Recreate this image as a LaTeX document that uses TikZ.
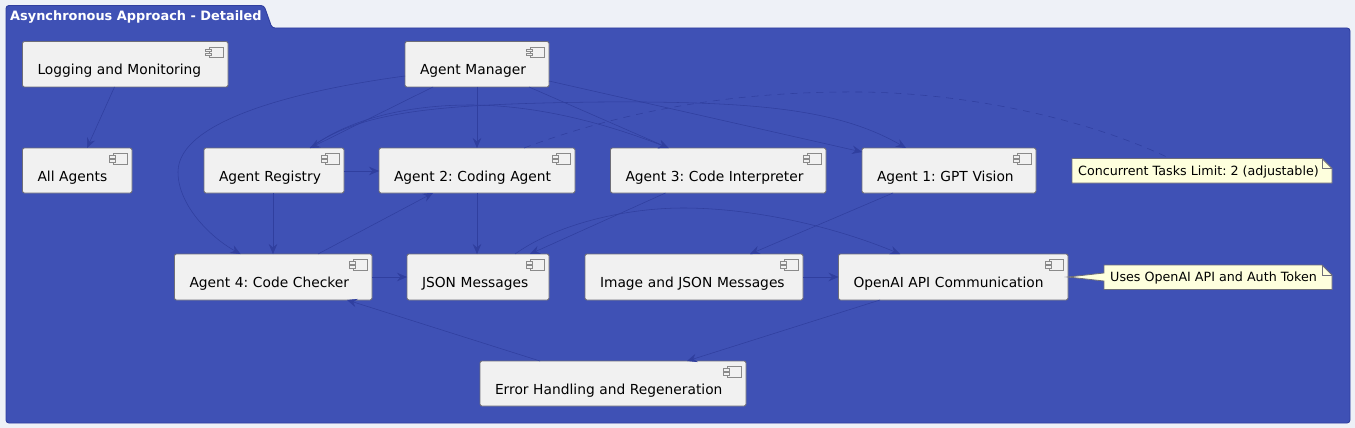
\documentclass[tikz,border=0pt]{standalone}
\usepackage{fontspec}
\setmainfont{DejaVu Sans}
\usetikzlibrary{arrows.meta,calc}
\definecolor{pagebg}{HTML}{EEF1F7}
\definecolor{pkgfill}{HTML}{3F51B5}
\definecolor{pkgline}{HTML}{303F9F}
\definecolor{boxfill}{HTML}{F1F1F1}
\definecolor{boxline}{HTML}{6E6E78}
\definecolor{notefill}{HTML}{FEFFDD}
\definecolor{iconline}{HTML}{8A8A8A}
\tikzset{
  x=1pt,y=-1pt,
  compbox/.style={draw=boxline,fill=boxfill,line width=0.9pt,rounded corners=2pt,outer sep=0pt,inner xsep=15pt,inner ysep=0pt,align=left,text=black,font=\fontsize{13.8}{16}\selectfont},
  icon/.style={draw=iconline,fill=boxfill,line width=0.7pt},
  link/.style={draw=pkgline,line width=0.55pt,-{Stealth[length=10pt,width=8.5pt,inset=3.5pt]}},
  notelink/.style={draw=pkgline,line width=0.55pt,dash pattern=on 7pt off 6pt},
  notebox/.style={draw=boxline,fill=notefill,line width=0.8pt},
  notetext/.style={inner sep=0pt,text=black,anchor=west,font=\fontsize{12.7}{15}\selectfont},
}
% name, left, top, right, bottom, text
\newcommand{\compnode}[6]{%
  \pgfmathsetmacro{\bw}{#4-#2}\pgfmathsetmacro{\bh}{#5-#3}%
  \pgfmathsetmacro{\tw}{#4-#2-30}%
  \node[compbox,minimum width=\bw pt,minimum height=\bh pt,text width=\tw pt] (#1) at ({(#2+#4)/2},{(#3+#5)/2}) {\raisebox{0pt}[24pt][3pt]{#6}};
  \draw[icon] ([xshift=-18.5pt,yshift=-5.5pt]#1.north east) rectangle ([xshift=-4.5pt,yshift=-16pt]#1.north east);
  \draw[icon] ([xshift=-22.3pt,yshift=-7.5pt]#1.north east) rectangle ([xshift=-17pt,yshift=-10pt]#1.north east);
  \draw[icon] ([xshift=-22.3pt,yshift=-11.5pt]#1.north east) rectangle ([xshift=-17pt,yshift=-14pt]#1.north east);
}
\begin{document}
\frenchspacing
\begin{tikzpicture}
\useasboundingbox (0,0) rectangle (1355,428);
\fill[pagebg] (0,0) rectangle (1355,428);
% package
\path[draw=pkgline,fill=pkgfill,line width=0.9pt,rounded corners=3pt] (6,28) -- (6,5.5) -- (264,5.5) -- (272,28) -- (1350,28) -- (1350,423) -- (6,423) -- cycle;
\node[inner sep=0pt,anchor=west,text=white,font=\bfseries\fontsize{12.9}{15}\selectfont] (title) at (10,17) {Asynchronous Approach - Detailed};
% components
\compnode{log}{22.5}{41.5}{228}{87}{Logging and Monitoring}
\compnode{all}{22.5}{148}{132}{193}{All Agents}
\compnode{mgr}{405}{41.5}{549}{87}{Agent Manager}
\compnode{reg}{204}{148}{344}{193}{Agent Registry}
\compnode{agb}{379}{148}{575}{193}{Agent 2: Coding Agent}
\compnode{agc}{610.5}{148}{826}{193}{Agent 3: Code Interpreter}
\compnode{aga}{862}{148}{1036}{193}{Agent 1: GPT Vision}
\compnode{agd}{174.5}{254}{372}{300}{Agent 4: Code Checker}
\compnode{json}{407}{254}{549}{300}{JSON Messages}
\compnode{img}{585}{254}{803}{300}{Image and JSON Messages}
\compnode{api}{838.5}{254}{1068}{300}{OpenAI API Communication}
\compnode{err}{480}{361}{746}{406}{Error Handling and Regeneration}
% notes
\coordinate (nca) at (1072,158.5);
\coordinate (ncb) at (1332,183);
\path[notebox] (nca) -- (1322,158.5) -- (1332,168.5) -- (ncb) -- (1072,183) -- cycle;
\draw[notebox,fill=none] (1322,158.5) -- (1322,168.5) -- (1332,168.5);
\node[notetext] (nconc) at (1078,171.5) {Concurrent Tasks Limit: 2 (adjustable)};
\path[notebox] (1104,265) -- (1322,265) -- (1332,275) -- (1332,289.5) -- (1104,289.5) -- (1104,281) -- (api.east) -- (1104,273) -- cycle;
\draw[notebox,fill=none] (1322,265) -- (1322,275) -- (1332,275);
\node[notetext] (nuse) at (1110,277.5) {Uses OpenAI API and Auth Token};
% connectors
\draw[link] ([xshift=92pt]log.south west) -- ([xshift=64.5pt]all.north west);
\draw[link] (mgr.west |- 0,76) .. controls (300,90) and (178,120) .. (178,172) .. controls (178,205) and (210,237) .. ([xshift=66pt]agd.north west);
\draw[link] ([xshift=28pt]mgr.south west) -- ([xshift=106pt]reg.north west);
\draw[link] ([xshift=106pt]reg.north west) .. controls (350,118) and (410,105) .. (470,105) .. controls (540,105) and (610,125) .. ([xshift=58pt]agc.north west);
\draw[link] ([xshift=106pt]reg.north west) .. controls (360,112) and (430,104) .. (600,102) .. controls (760,101) and (840,110) .. ([xshift=44pt]aga.north west);
\draw[link] ([xshift=-20pt]mgr.south east) -- ([xshift=58pt]agc.north west);
\draw[link] (549,81) -- (aga.north west |- 0,152);
\draw[link] ([xshift=72pt]mgr.south west) -- ([xshift=98pt]agb.north west);
\draw[notelink] ([xshift=145pt]agb.north west) .. controls (620,112) and (730,91) .. (860,92) .. controls (970,93) and (1090,120) .. (1170,158.5);
\draw[link] (reg.east |- 0,171) -- (agb.west |- 0,171);
\draw[link] ([xshift=69pt]reg.south west) -- ([xshift=98.5pt]agd.north west);
\draw[link] ([xshift=143.5pt]agd.north west) -- ([xshift=54pt]agb.south west);
\draw[link] (agd.east |- 0,277) -- (json.west);
\draw[link] ([xshift=98pt]agb.south west) -- ([xshift=70pt]json.north west);
\draw[link] ([xshift=55pt]agc.south west) -- ([xshift=123pt]json.north west);
\draw[link] ([xshift=108pt]json.north west) .. controls (560,222) and (630,208) .. (683,208) .. controls (750,208) and (830,225) .. ([xshift=61.5pt]api.north west);
\draw[link] ([xshift=31pt]aga.south west) -- ([xshift=165pt]img.north west);
\draw[link] (img.east) -- (api.west);
\draw[link] ([xshift=41.5pt]api.south west) -- ([xshift=207pt]err.north west);
\draw[link] ([xshift=60pt]err.north west) -- ([xshift=172.5pt]agd.south west);
\end{tikzpicture}
\end{document}
